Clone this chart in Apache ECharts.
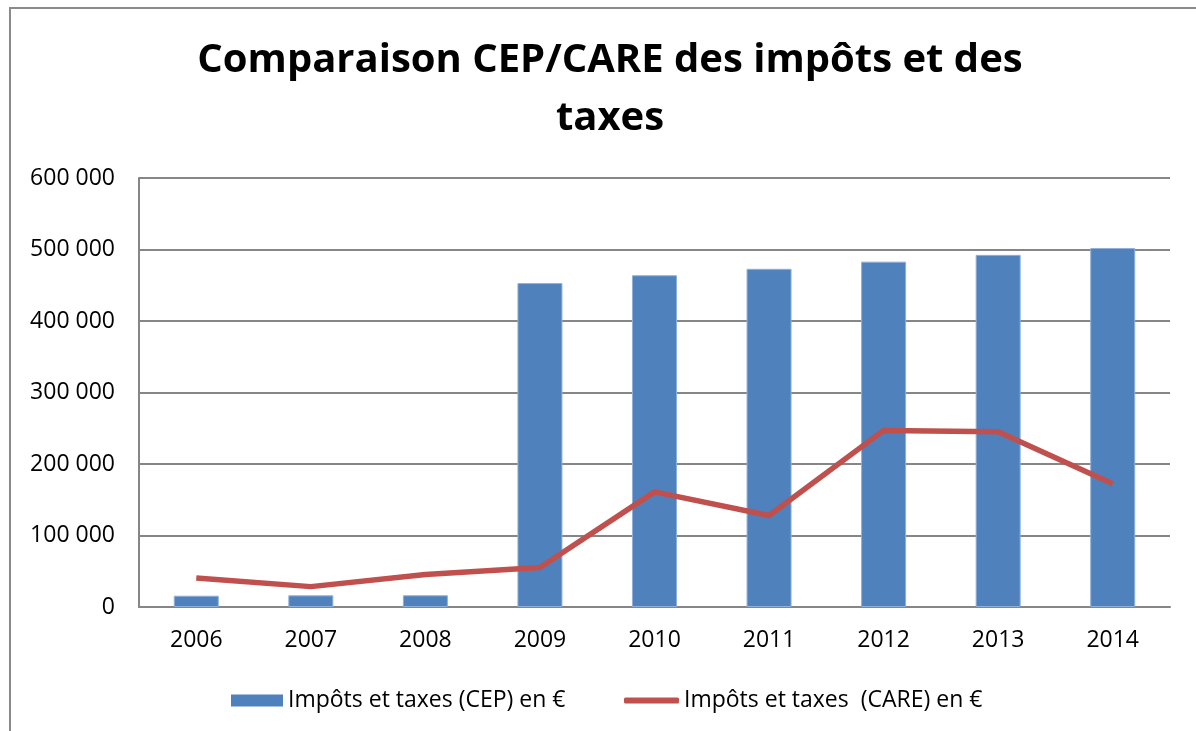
<!DOCTYPE html>
<html>
<head>
    <meta charset="utf-8">
    <title>Comparaison CEP/CARE</title>
    <script src="https://cdn.jsdelivr.net/npm/echarts@6/dist/echarts.min.js"></script>
    <style>
        html, body { margin: 0; padding: 0; background: #fff; }
    </style>
</head>
<body>
    <div id="chart" style="width:1196px; height:731px"></div>

    <script>
        // données
        const years = ['2006', '2007', '2008', '2009', '2010', '2011', '2012', '2013', '2014'];
        const cepValues = [15800, 16300, 16400, 453000, 464000, 473000, 483000, 492500, 502000];
        const careValues = [40500, 28500, 45400, 55200, 161000, 128000, 247000, 245000, 172500];
        const cepName = 'Impôts et taxes (CEP) en €';
        const careName = 'Impôts et taxes  (CARE) en €';

        const font = 'Open Sans';
        let chart = echarts.init(document.getElementById('chart'));

        // séparateur de milliers avec espace
        function fmt(v) {
            return String(v).replace(/\B(?=(\d{3})+(?!\d))/g, ' ');
        }

        let option = {
            animation: false,
            textStyle: { fontFamily: font },
            title: {
                text: 'Comparaison CEP/CARE des impôts et des\ntaxes',
                left: 605,
                top: 27,
                textAlign: 'center',
                textStyle: {
                    fontFamily: font,
                    fontWeight: 'bold',
                    fontSize: 40,
                    lineHeight: 58,
                    color: '#000'
                }
            },
            graphic: [{
                type: 'rect',
                shape: { x: 10, y: 8, width: 1250, height: 800 },
                style: { fill: 'none', stroke: '#8a8a8a', lineWidth: 2 },
                silent: true
            }],
            legend: [
                {
                    data: [{ name: cepName, icon: 'rect', itemStyle: { borderWidth: 0 } }],
                    left: 226,
                    top: 684,
                    itemWidth: 52,
                    itemHeight: 12,
                    textStyle: { fontFamily: font, fontSize: 23, color: '#000' }
                },
                {
                    data: [{ name: careName, icon: 'roundRect' }],
                    left: 619,
                    top: 684,
                    itemWidth: 55,
                    itemHeight: 6,
                    textStyle: { fontFamily: font, fontSize: 23, color: '#000' }
                }
            ],
            grid: { left: 139, right: 26, top: 178, bottom: 124 },
            xAxis: {
                type: 'category',
                data: years,
                axisLine: { show: true, lineStyle: { color: '#868686', width: 2 } },
                axisTick: { show: false },
                axisLabel: { fontFamily: font, fontSize: 23, color: '#000', margin: 22 }
            },
            yAxis: {
                type: 'value',
                min: 0,
                max: 600000,
                interval: 100000,
                axisLine: { show: true, lineStyle: { color: '#868686', width: 2 } },
                axisTick: { show: false },
                axisLabel: { fontFamily: font, fontSize: 23, color: '#000', margin: 24, formatter: fmt },
                splitLine: { lineStyle: { color: '#868686', width: 2 } }
            },
            series: [
                {
                    name: cepName,
                    type: 'bar',
                    data: cepValues,
                    barWidth: 45,
                    itemStyle: { color: '#4F81BD', borderColor: '#8FB0D8', borderWidth: 1 }
                },
                {
                    name: careName,
                    type: 'line',
                    data: careValues,
                    symbol: 'none',
                    lineStyle: { color: '#C0504D', width: 5.5 },
                    itemStyle: { color: '#C0504D' }
                }
            ]
        };

        chart.setOption(option);
    </script>
</body>
</html>
